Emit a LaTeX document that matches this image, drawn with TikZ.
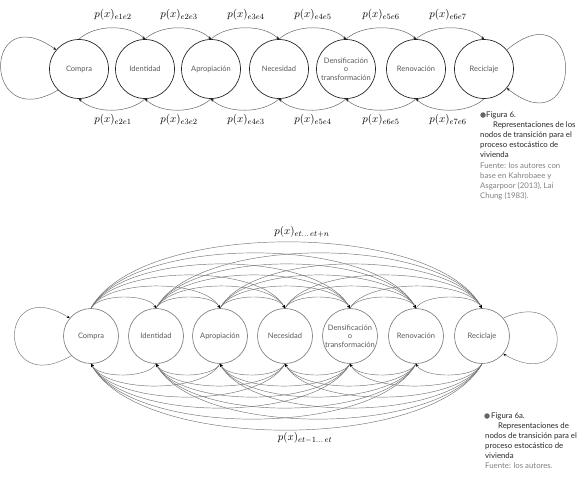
\documentclass[tikz,border=0pt]{standalone}
\usepackage{fontspec}
\setmainfont{Lato}
\usetikzlibrary{arrows.meta}
\begin{document}
\begin{tikzpicture}[x=1pt,y=-1pt,
  st/.style={circle,draw=black!85,line width=0.7pt,minimum size=59pt,inner sep=0pt,
    font=\fontsize{7.5}{8.5}\selectfont,text=black!65,align=center},
  sb/.style={st,draw=black!55,line width=0.6pt,minimum size=55pt},
  arcline/.style={draw=black!60,line width=0.5pt,-{Stealth[length=3pt,width=2.6pt,color=black]}},
  fanline/.style={draw=black!55,line width=0.45pt,-{Stealth[length=3pt,width=2.6pt,color=black]}},
  lab/.style={font=\fontsize{11}{12}\selectfont,inner sep=0pt},
  captext/.style={font=\fontsize{7.8}{9.8}\selectfont,align=left,anchor=north west,inner sep=0pt,text=black!85},
  iconmark/.style={circle,fill=black!60,inner sep=0pt,minimum size=5.5pt}
]
\useasboundingbox (0,0) rectangle (580,483);

% ---------- Figure 6 ----------
\node[st] (a1) at (79,69) {Compra};
\node[st] (a2) at (145,69) {Identidad};
\node[st] (a3) at (211,69) {Apropiación};
\node[st] (a4) at (279,69) {Necesidad};
\node[st] (a5) at (346,69) {Densificación\\o\\transformación};
\node[st] (a6) at (416,69) {Renovación};
\node[st] (a7) at (484,69) {Reciclaje};

\foreach \i/\j in {a1/a2,a2/a3,a3/a4,a4/a5,a5/a6,a6/a7}{
  \draw[arcline] (\i.north) .. controls +(16,-15) and +(-16,-15) .. (\j.north);
  \draw[arcline] (\j.south) .. controls +(-16,15) and +(16,15) .. (\i.south);
}
\draw[arcline] (a1.225) .. controls (-18,135) and (-18,-3) .. (a1.140);
\draw[arcline] (a7.40) .. controls (585,-15) and (585,150) .. (a7.-40);

\node[lab] (t1) at (113,15) {$p(x)_{e1e2}$};
\node[lab] (t2) at (179,15) {$p(x)_{e2e3}$};
\node[lab] (t3) at (246,15) {$p(x)_{e3e4}$};
\node[lab] (t4) at (313,15) {$p(x)_{e4e5}$};
\node[lab] (t5) at (381,15) {$p(x)_{e5e6}$};
\node[lab] (t6) at (448,15) {$p(x)_{e6e7}$};
\node[lab] (u1) at (113,120) {$p(x)_{e2e1}$};
\node[lab] (u2) at (179,120) {$p(x)_{e3e2}$};
\node[lab] (u3) at (246,120) {$p(x)_{e4e3}$};
\node[lab] (u4) at (313,120) {$p(x)_{e5e4}$};
\node[lab] (u5) at (381,120) {$p(x)_{e6e5}$};
\node[lab] (u6) at (448,120) {$p(x)_{e7e6}$};

\node[iconmark] (i1) at (483,115) {};
\node[captext] (c1) at (480,112) {\hspace*{6pt}Figura 6.\\\hspace*{13pt}Representaciones de los\\nodos de transición para el\\proceso estocástico de\\vivienda};
\node[captext,text=black!50] (f1) at (480,163) {Fuente: los autores con\\base en Kahrobaee y\\Asgarpoor (2013), Lai\\Chung (1983).};

% ---------- Figure 6a ----------
\node[sb] (b1) at (91,336) {Compra};
\node[sb] (b2) at (156,336) {Identidad};
\node[sb] (b3) at (220,336) {Apropiación};
\node[sb] (b4) at (285,336) {Necesidad};
\node[sb] (b5) at (350,336) {Densificación\\o\\transformación};
\node[sb] (b6) at (416,336) {Renovación};
\node[sb] (b7) at (482,336) {Reciclaje};

\foreach \i in {1,...,6}{
  \pgfmathtruncatemacro\s{\i+1}
  \foreach \j in {\s,...,7}{
    \pgfmathsetmacro\v{14.7*(\j-\i)}
    \draw[fanline] (b\i.north) .. controls +({0.55*\v},{-\v}) and +({-0.55*\v},{-\v}) .. (b\j.north);
    \draw[fanline] (b\j.south) .. controls +({-0.55*\v},{\v}) and +({0.55*\v},{\v}) .. (b\i.south);
  }
}
\draw[fanline] (b1.225) .. controls (-4,400) and (-4,272) .. (b1.140);
\draw[fanline] (b7.40) .. controls (575,285) and (575,395) .. (b7.-40);

\node[lab] (tt) at (302,232) {$p(x)_{et\ldots\,et+n}$};
\node[lab] (bb) at (305,438) {$p(x)_{et-1\ldots\,et}$};

\node[iconmark] (i2) at (487,416) {};
\node[captext] (c2) at (485,413) {\hspace*{6pt}Figura 6a.\\\hspace*{13pt}Representaciones de\\nodos de transición para el\\proceso estocástico de\\vivienda};
\node[captext,text=black!50] (f2) at (485,463) {Fuente: los autores.};
\end{tikzpicture}
\end{document}
